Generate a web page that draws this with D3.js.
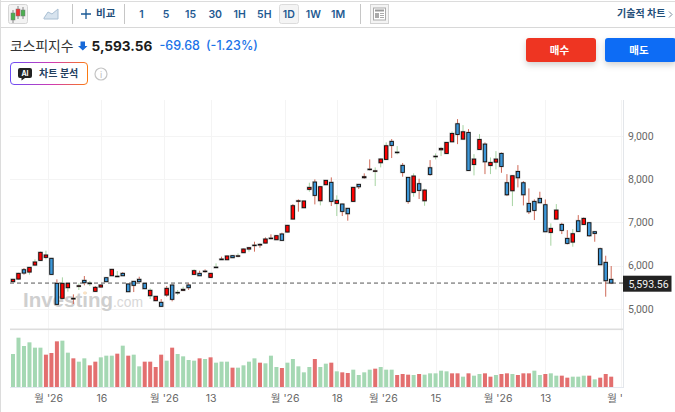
<!DOCTYPE html>
<html><head><meta charset="utf-8">
<script src="https://cdn.jsdelivr.net/npm/d3@7/dist/d3.min.js"></script>
<style>html,body{margin:0;padding:0;background:#fff;overflow:hidden}svg{display:block}text{font-family:Inter,"Noto Sans CJK KR",sans-serif}</style>
</head><body><svg id="c" width="675" height="412"></svg>
<script>
const opens=[5626,5687,5903,5849,6011,6119,6189,6166,5587,5240,5487,5225,5517,5656,5580,5402,5502,5718,5764,5745,5818,5572,5633,5680,5587,5301,5186,5147,5317,5548,5365,5425,5548,5795,5818,5860,5726,5952,6135,6135,6228,6215,6298,6382,6462,6475,6521,6624,6598,6730,6776,7077,7489,7339,7764,7933,7501,7872,7926,7439,7424,7324,7486,7879,8034,8222,8183,8381,8458,8875,8615,8319,8041,7694,7895,7500,8264,8521,8681,8596,8866,9283,8928,9082,8341,8688,8812,8318,8395,8596,7917,7732,8179,7917,7438,7485,7554,7408,6767,7076,6952,6628,6543,7037,6952,6991,6783,6389,6073,5679];
const closes=[5680,5818,5826,5957,6081,6305,6243,5795,5101,5587,5587,5240,5531,5602,5593,5494,5548,5626,5911,5752,5764,5394,5541,5626,5464,5425,5286,5055,5471,5217,5377,5448,5487,5880,5764,5870,5818,5962,6150,6220,6182,6225,6382,6413,6472,6490,6614,6634,6691,6583,6930,7385,7499,7494,7810,7625,7825,7972,7486,7509,7254,7200,7810,7825,8057,8232,8193,8466,8774,8782,8625,8157,7486,8072,7740,7747,8110,8531,8712,8851,9059,9036,9097,8202,8465,8920,8403,8388,8465,8295,7639,8079,8033,7639,7246,7277,7454,6783,6860,7284,6814,6513,6736,6790,7091,6690,6744,6019,5648,5593.56];
const highs=[5690,5830,5942,5965,6143,6320,6343,6175,5680,5726,5595,5332,5587,5757,5641,5525,5555,5725,5920,5873,5849,5580,5640,5741,5595,5471,5295,5224,5525,5555,5433,5510,5587,5911,5880,5911,5825,6050,6205,6230,6235,6282,6390,6420,6552,6513,6652,6722,6700,6760,6940,7424,7532,7500,7918,7995,7835,7980,8041,7625,7430,7330,7815,7885,8134,8458,8273,8475,8852,8929,8767,8373,8048,8134,8010,7778,8442,8596,8750,8858,9105,9391,9252,9159,8580,9043,8851,8503,8650,8619,8117,8085,8326,7955,7786,7531,7709,7531,6976,7423,6991,6821,6844,7168,7114,6998,6790,6412,6227,5988];
const lows=[5620,5680,5788,5788,5996,6110,6143,5790,5095,5235,5394,5109,5433,5541,5525,5395,5495,5620,5758,5741,5758,5388,5386,5620,5458,5224,5180,5050,5278,5170,5317,5420,5433,5790,5758,5834,5720,5942,6128,6125,6176,6190,6292,6321,6321,6413,6515,6609,6592,6575,6770,7070,7247,7333,7710,7416,7393,7866,7378,7146,7146,7038,7480,7771,8010,8205,7841,8273,8452,8489,8574,8057,7432,7594,7540,7384,8079,8457,8534,8590,8860,8812,8922,8195,8087,8682,8117,8117,8226,8148,7608,7377,7809,7392,7192,7053,7448,6777,6459,7070,6729,6490,6435,6784,6946,6667,6551,6013,5278,5570];
const wickDir=['u','u','u','d','d','u','d','u','u','d','d','u','d','u','d','u','u','u','u','d','u','u','u','u','u','d','u','u','u','u','d','d','u','d','u','u','u','d','u','u','u','d','u','d','u','u','u','u','u','u','u','u','u','u','d','u','d','u','u','d','u','u','u','u','u','u','d','d','d','u','d','u','u','d','u','d','u','d','d','u','d','u','d','u','d','d','u','d','d','u','u','d','u','u','u','u','u','u','d','d','u','u','d','u','u','u','u','u','u','u'];
const volumes=[990,1480,1230,1340,1180,1180,970,1020,1370,1390,1030,860,760,860,650,760,890,940,940,1000,1240,940,970,620,760,760,600,970,790,1180,990,920,810,790,860,840,890,730,760,760,580,580,650,760,860,730,710,940,600,570,730,840,620,440,600,840,600,700,730,470,440,420,520,360,440,520,550,600,520,520,360,390,370,360,390,370,410,410,490,470,410,410,310,410,340,390,410,310,360,390,410,390,360,410,410,490,360,390,410,340,340,280,310,310,340,340,230,280,390,310];
const volDir=['d','d','d','d','d','d','u','u','u','d','d','u','d','d','u','u','d','d','d','u','d','u','d','d','u','u','u','u','d','u','d','d','d','d','u','d','u','d','d','d','u','d','d','d','d','u','d','d','d','u','d','d','d','d','d','u','d','d','u','d','u','u','d','d','d','d','u','d','d','d','u','u','u','d','u','d','d','d','d','d','u','u','d','u','d','d','u','u','d','u','u','d','u','u','u','d','d','u','d','d','u','u','d','d','d','u','d','u','u','u'];
const priceTicks=[5000,6000,7000,8000,9000];
const dateTickPos=[6.4,16.1,27.5,36,49.5,59,67.4,77,88.3,97,110.8];
const dateTickLabels=["월 '26","16","월 '26","13","월 '26","18","월 '26","15","월 '26","13","월 '26"];
const lastClose=5593.56;
const intervals=["1","5","15","30","1H","5H","1D","1W","1M"];

const svg=d3.select('#c');
const x=d3.scaleLinear().domain([0,109]).range([13,611.2]);
const y=d3.scaleLinear().domain([5000,9000]).range([308.7,136]);
const yv=d3.scaleLinear().domain([0,1500]).range([387,337]);
const L=10,R=623;
const defs=svg.append('defs');
const g=defs.append('linearGradient').attr('id','aig').attr('x1',0).attr('x2',1).attr('y1',0).attr('y2',0);
g.append('stop').attr('offset','0').attr('stop-color','#6a4cf5');
g.append('stop').attr('offset','.55').attr('stop-color','#d13bb0');
g.append('stop').attr('offset','1').attr('stop-color','#fb7a12');
const sh=defs.append('filter').attr('id','sh').attr('x','-20%').attr('y','-20%').attr('width','140%').attr('height','170%');
sh.append('feDropShadow').attr('dx',0).attr('dy',3).attr('stdDeviation',3).attr('flood-opacity',.18);
defs.append('clipPath').attr('id','xclip2').append('rect').attr('x',0).attr('y',0).attr('width',R-0.5).attr('height',24);

// page frame
svg.append('rect').attr('x',0).attr('y',1).attr('width',675).attr('height',1).attr('fill','#dcdcdc');
svg.append('rect').attr('x',0).attr('y',27).attr('width',675).attr('height',1).attr('fill','#d8d8d8');
svg.append('rect').attr('x',0).attr('y',0).attr('width',1).attr('height',412).attr('fill','#dcdcdc');

// toolbar
const tb=svg.append('g');
tb.append('rect').attr('x',8.5).attr('y',4.5).attr('width',19).attr('height',19).attr('rx',2).attr('fill','#f3f3f3').attr('stroke','#d5d5d5');
[[13,13,20,'#4caf50'],[18,9,16,'#e33'],[23,10,16,'#4caf50']].forEach(([cx,a,b,f])=>{
 tb.append('line').attr('x1',cx).attr('x2',cx).attr('y1',a-3).attr('y2',b+3).attr('stroke','#888');
 tb.append('rect').attr('x',cx-2).attr('y',a).attr('width',4).attr('height',b-a).attr('fill',f).attr('stroke','#777').attr('stroke-width',.5);
});
tb.append('path').attr('d','M44 18L48 12L52 14L58 9V19H44Z').attr('fill','#d7e3ee').attr('stroke','#a9bfd3');
[72.5,124.5,360.5].forEach(v=>tb.append('line').attr('x1',v).attr('x2',v).attr('y1',4).attr('y2',24).attr('stroke','#c6c6c6'));
tb.append('path').attr('d','M86 9V19M81 14H91').attr('stroke','#1a5a96').attr('stroke-width',1.3).attr('fill','none');
tb.append('text').attr('x',96).attr('y',17).attr('font-size',10.5).attr('font-weight',600).attr('fill','#1f4e79').text('비교');
const ivX=d3.scalePoint().domain(intervals).range([141.5,338]);
tb.append('rect').attr('x',279.5).attr('y',4.5).attr('width',19).attr('height',19).attr('rx',2).attr('fill','#f4f4f4').attr('stroke','#dcdcdc');
intervals.forEach(t=>tb.append('text').attr('x',ivX(t)).attr('y',17.5).attr('text-anchor','middle').attr('font-size',10.5).attr('font-weight',600).attr('fill','#1f5a92').text(t));
tb.append('rect').attr('x',370.5).attr('y',4.5).attr('width',18).attr('height',19).attr('fill','#f4f4f4').attr('stroke','#d2d2d2');
tb.append('rect').attr('x',373.5).attr('y',8).attr('width',12).attr('height',12).attr('fill','#fff').attr('stroke','#aaa');
tb.append('rect').attr('x',375).attr('y',9.5).attr('width',9).attr('height',2).attr('fill','#999');
tb.append('rect').attr('x',375).attr('y',13).attr('width',4).attr('height',5).attr('fill','#aaa');
tb.append('path').attr('d','M380 13.5H384M380 15.5H384M380 17.5H384').attr('stroke','#aaa').attr('fill','none');
tb.append('text').attr('x',617).attr('y',17).attr('font-size',10).attr('font-weight',600).attr('fill','#1f4e79').text('기술적 차트');
tb.append('path').attr('d','M669 11.5L672 14.5L669 17.5').attr('stroke','#7a8a9a').attr('fill','none');

// header
svg.append('text').attr('x',10).attr('y',51).attr('font-size',13.8).attr('fill','#333').text('코스피지수');
svg.append('path').attr('d','M80.5 41.5H85V46H87.5L82.8 50.5L78 46H80.5Z').attr('fill','#1769d8');
svg.append('text').attr('x',91.5).attr('y',51).attr('font-size',13.6).attr('font-weight',700).attr('fill','#1c1c1c').text('5,593.56');
svg.append('text').attr('x',159.5).attr('y',50).attr('font-size',12.5).attr('font-weight',500).attr('fill','#1a73e8').text('-69.68');
svg.append('text').attr('x',206).attr('y',50).attr('font-size',12.5).attr('font-weight',500).attr('fill','#1a73e8').text('(-1.23%)');
svg.append('rect').attr('x',526).attr('y',38).attr('width',70).attr('height',24).attr('rx',3).attr('fill','#ee3524').attr('filter','url(#sh)');
svg.append('rect').attr('x',605).attr('y',38).attr('width',71).attr('height',24).attr('rx',3).attr('fill','#0a6cf5').attr('filter','url(#sh)');
svg.append('text').attr('x',559.5).attr('y',54).attr('text-anchor','middle').attr('font-size',10.5).attr('font-weight',700).attr('fill','#fff').text('매수');
svg.append('text').attr('x',639).attr('y',54).attr('text-anchor','middle').attr('font-size',10.5).attr('font-weight',700).attr('fill','#fff').text('매도');
svg.append('rect').attr('x',10.5).attr('y',62.5).attr('width',77).attr('height',22).attr('rx',3.5).attr('fill','#fff').attr('stroke','url(#aig)').attr('stroke-width',1);
svg.append('path').attr('d','M20 68H30Q32 68 32 70V76Q32 78 30 78H25L21.5 80.5V78H20Q18 78 18 76V70Q18 68 20 68Z').attr('fill','#222');
svg.append('text').attr('x',25).attr('y',76).attr('text-anchor','middle').attr('font-size',7).attr('font-weight',700).attr('fill','#fff').text('AI');
svg.append('text').attr('x',39).attr('y',77).attr('font-size',10).attr('font-weight',600).attr('fill','#23405f').text('차트 분석');
svg.append('circle').attr('cx',101).attr('cy',74).attr('r',6).attr('fill','none').attr('stroke','#c4c4c4').attr('stroke-width',1.2);
svg.append('text').attr('x',101).attr('y',77.5).attr('text-anchor','middle').attr('font-size',9).attr('fill','#bbb').text('i');

// grid
const grid=svg.append('g').attr('stroke','#f4f4f4');
priceTicks.forEach(v=>grid.append('line').attr('x1',L).attr('x2',R).attr('y1',Math.round(y(v))+.5).attr('y2',Math.round(y(v))+.5));
dateTickPos.forEach(p=>grid.append('line').attr('x1',Math.round(x(p))+.5).attr('x2',Math.round(x(p))+.5).attr('y1',100).attr('y2',387));

// watermark
const wmA=svg.append('text').attr('x',23).attr('y',307).attr('textLength',90).attr('lengthAdjust','spacingAndGlyphs')
 .attr('font-size',21).attr('font-weight',700).attr('style','font-family:"Liberation Sans"').attr('fill','#cfcfcf').text('Investing');
svg.append('text').attr('x',113).attr('y',307).attr('textLength',30).attr('lengthAdjust','spacingAndGlyphs')
 .attr('font-size',14.5).attr('style','font-family:"Liberation Sans"').attr('fill','#d8d8d8').text('.com');
svg.append('circle').attr('cx',85).attr('cy',293).attr('r',1.8).attr('fill','#fbe3c4');

// volume
svg.append('g').selectAll('rect').data(volumes).join('rect')
 .attr('x',(d,i)=>x(i)-2).attr('width',4).attr('y',d=>yv(d)).attr('height',d=>yv(0)-yv(d))
 .attr('fill',(d,i)=>volDir[i]==='u'?'#e36f6f':'#a5d8b3');

// frame lines
svg.append('rect').attr('x',L).attr('y',328.5).attr('width',R-L+1).attr('height',1.6).attr('fill','#dddddd');
svg.append('line').attr('x1',L).attr('x2',R+1).attr('y1',387.5).attr('y2',387.5).attr('stroke','#e3e8f0');
svg.append('line').attr('x1',R+.5).attr('x2',R+.5).attr('y1',100).attr('y2',388).attr('stroke','#e3e6ea');

// last-price line
svg.append('line').attr('x1',L).attr('x2',R).attr('y1',y(lastClose)).attr('y2',y(lastClose)).attr('stroke','#555').attr('stroke-dasharray','4 3');

// candles
const idx=d3.range(opens.length);
const c=svg.append('g');
c.selectAll('.w').data(idx).join('line').attr('class','w')
 .attr('x1',i=>x(i)).attr('x2',i=>x(i)).attr('y1',i=>y(highs[i])).attr('y2',i=>y(lows[i]))
 .attr('stroke',i=>wickDir[i]==='u'?'#cf6a58':'#a6d3a2').attr('stroke-width',1);
c.selectAll('.h').data(idx).join('rect').attr('class','h')
 .attr('x',i=>x(i)-2.8).attr('width',5.2)
 .attr('y',i=>y(Math.max(opens[i],closes[i]))-1).attr('height',i=>Math.abs(y(opens[i])-y(closes[i]))+2)
 .attr('fill','#999').attr('opacity',.45);
c.selectAll('.b').data(idx).join('rect').attr('class','b')
 .attr('x',i=>x(i)-1.7).attr('width',3.4)
 .attr('y',i=>y(Math.max(opens[i],closes[i]))).attr('height',i=>Math.max(.5,Math.abs(y(opens[i])-y(closes[i]))))
 .attr('fill',i=>closes[i]>=opens[i]?'#f00':'#3d97d8').attr('stroke','#111').attr('stroke-width',.9);

// axes
const ya=d3.axisRight(y).tickValues(priceTicks).tickSize(0).tickPadding(5).tickFormat(d3.format(','));
const yg=svg.append('g').attr('transform',`translate(${R},0)`).call(ya);
yg.select('.domain').remove();
yg.selectAll('text').attr('font-size',10.5).attr('fill','#666').style('font-family','Roboto');
const xa=d3.axisBottom(x).tickValues(dateTickPos).tickSize(0).tickPadding(7).tickFormat((d,i)=>dateTickLabels[i]);
const xg=svg.append('g').attr('transform','translate(0,388)').attr('clip-path','url(#xclip2)').call(xa);
xg.select('.domain').remove();
xg.selectAll('text').attr('font-size',10.5).attr('fill','#666');

// last-price label
svg.append('rect').attr('x',623).attr('y',275.7).attr('width',48.5).attr('height',16).attr('fill','#222');
svg.append('text').attr('x',648.5).attr('y',287.5).attr('text-anchor','middle').attr('font-size',10.5).attr('fill','#f0f0f0').style('font-family','Roboto').text('5,593.56');
</script></body></html>
